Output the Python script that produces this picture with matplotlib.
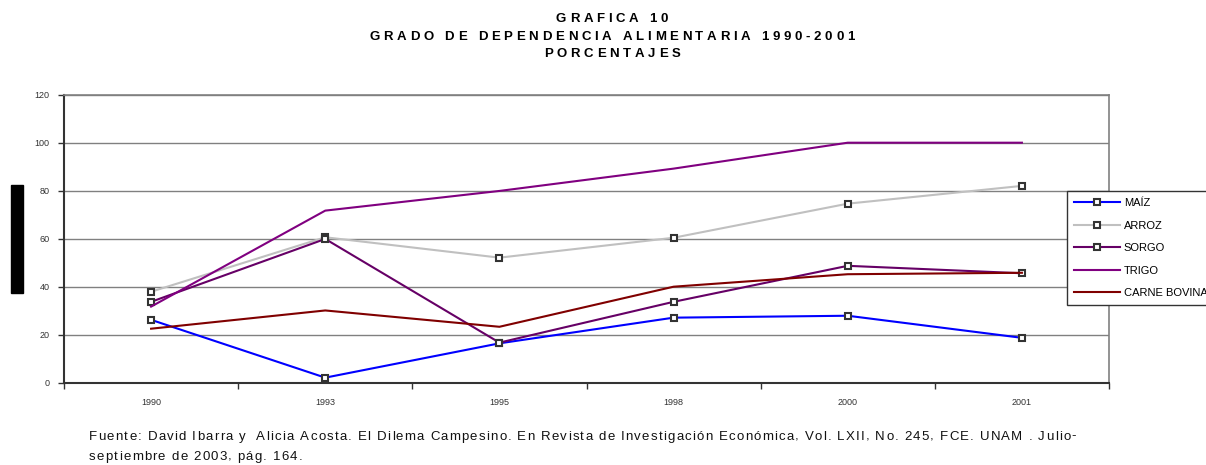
import matplotlib
matplotlib.use("Agg")
import matplotlib.pyplot as plt
from matplotlib.patches import Rectangle
from matplotlib.font_manager import FontProperties

years = ["1990", "1993", "1995", "1998", "2000", "2001"]
maiz = [26.2, 2.1, 16.4, 27.1, 27.9, 18.7]
arroz = [37.9, 60.6, 52.1, 60.4, 74.6, 82.0]
sorgo = [33.7, 59.9, 16.7, 33.7, 48.7, 45.6]
trigo = [31.7, 71.7, 79.9, 89.2, 100.0, 100.0]
carne = [22.5, 30.1, 23.3, 40.0, 45.2, 45.8]
yticks = [0, 20, 40, 60, 80, 100, 120]

title_lines = ["GRAFICA 10", "GRADO DE DEPENDENCIA ALIMENTARIA 1990-2001", "PORCENTAJES"]
fuente_lines = ["Fuente: David Ibarra y  Alicia Acosta. El Dilema Campesino. En Revista de "
                "Investigación Económica, Vol. LXII, No. 245, FCE. UNAM . Julio-",
                "septiembre de 2003, pág. 164."]

plt.rcParams['font.family'] = ['Liberation Sans', 'DejaVu Sans']

W, H = 1206, 465
fig = plt.figure(figsize=(W / 100, H / 100), dpi=100)
ax = fig.add_axes([64 / W, 1 - 382.7 / H, 1045 / W, 288 / H])

x = list(range(len(years)))
mk = dict(marker='s', markersize=5, markerfacecolor='white',
          markeredgecolor='#333333', markeredgewidth=1.5)
ax.plot(x, maiz, color='#0000FF', lw=1.5, label='MAÍZ', **mk)
ax.plot(x, arroz, color='#C0C0C0', lw=1.5, label='ARROZ', **mk)
ax.plot(x, sorgo, color='#660066', lw=1.5, label='SORGO', **mk)
ax.plot(x, trigo, color='#800080', lw=1.5, label='TRIGO')
ax.plot(x, carne, color='#800000', lw=1.5, label='CARNE BOVINA')

ax.set_xlim(-0.5, len(years) - 0.5)
ax.set_ylim(0, 120)
ax.set_yticks(yticks)
ax.set_xticks(x)
ax.set_xticklabels(years)
ax.set_xticks([i - 0.5 for i in range(len(years) + 1)], minor=True)
ax.tick_params(axis='x', which='major', length=0, pad=11, labelsize=6.5, colors='#333333')
ax.tick_params(axis='x', which='minor', length=4, width=1, color='#333333', direction='out')
ax.tick_params(axis='y', length=4, width=1, color='#333333', labelsize=6.5,
               labelcolor='#333333', pad=6.5)
ax.yaxis.grid(True, color='#808080', lw=1)
ax.set_axisbelow(True)
for s in ['left', 'bottom']:
    ax.spines[s].set_color('#333333')
    ax.spines[s].set_linewidth(1.5)
for s in ['top', 'right']:
    ax.spines[s].set_color('#808080')
    ax.spines[s].set_linewidth(1.2)

leg = ax.legend(loc='upper left', bbox_to_anchor=(1067 / W, 1 - 191 / H),
                bbox_transform=fig.transFigure,
                borderaxespad=0, fancybox=False, edgecolor='#333333', framealpha=1,
                fontsize=8.0, labelspacing=1.12, handlelength=4.15, handletextpad=0.3,
                borderpad=0.65)
leg.get_frame().set_linewidth(1)

renderer = fig.canvas.get_renderer()


def tracked(s, px, py, size, track, weight='normal', ha='left', color='black'):
    # letter-spaced text, one glyph at a time (positions in pixels from top-left)
    prop = FontProperties(family=['Liberation Sans', 'DejaVu Sans'], size=size, weight=weight)
    widths = []
    for ch in s:
        w, h, d = renderer.get_text_width_height_descent(ch, prop, ismath=False)
        widths.append(w)
    total = sum(widths) + track * (len(s) - 1)
    cx = px - total / 2 if ha == 'center' else px
    for ch, w in zip(s, widths):
        fig.text(cx / W, 1 - py / H, ch, fontproperties=prop, ha='left', va='center',
                 color=color)
        cx += w + track


for i, line in enumerate(title_lines):
    tracked(line, 612, 19.5 + i * 17.3, 9.5, 3.7, weight='bold', ha='center')

for i, line in enumerate(fuente_lines):
    tracked(line, 89, 436.5 + i * 20, 9.5, 1.22, color='#111111')

fig.patches.append(Rectangle((11 / W, 1 - 293 / H), 12 / W, 108 / H,
                             transform=fig.transFigure, color='black'))

fig.savefig("out.png", dpi=100)
